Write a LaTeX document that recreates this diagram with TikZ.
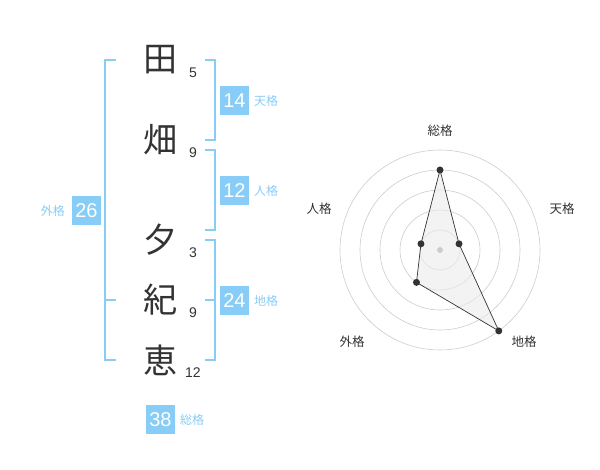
\documentclass[tikz,border=0pt]{standalone}
\usepackage{fontspec}
\setmainfont{Noto Sans CJK JP}
\newfontfamily\digits{Liberation Sans}
\usetikzlibrary{positioning}
\definecolor{skyblue}{HTML}{88CCF8}
\definecolor{inkgray}{HTML}{333333}
\definecolor{ringgray}{HTML}{CCCCCC}
\definecolor{areagray}{HTML}{EBEBEB}
\tikzset{
  kanji/.style={inner sep=0pt,text=inkgray,font=\fontsize{34}{34}\selectfont},
  strokes/.style={inner sep=0pt,text=inkgray,font=\digits\fontsize{14}{14}\selectfont},
  scorebox/.style={fill=skyblue,text=white,minimum size=28.5pt,inner sep=0pt,font=\digits\fontsize{20}{20}\selectfont},
  scorelabel/.style={inner sep=0pt,text=skyblue,font=\fontsize{12}{12}\selectfont},
  axislabel/.style={inner sep=0pt,text=inkgray,font=\fontsize{12.5}{12.5}\selectfont},
  bracket/.style={skyblue,line width=1.6pt},
  ring/.style={ringgray,line width=0.6pt}
}
\newcommand{\drawkanji}[4]{
  \node[kanji] (#1) at (160,#2) {#3};
  \node[strokes] (#1n) at (193,#2+13) {#4};
}
\newcommand{\drawbracket}[3]{
  \draw[bracket] (205,#1) -- (215,#1) -- (215,#2) -- (205,#2);
  %% #3 is an optional middle tick
  \ifx&#3&\else\draw[bracket] (205,#3) -- (215,#3);\fi
}

\begin{document}
\begin{tikzpicture}[x=1pt,y=-1pt]
      \useasboundingbox (0,0) rectangle (600,470);
      \drawkanji{ta}{60}{田}{5};
      \drawkanji{hata}{140}{畑}{9};
      \drawkanji{yu}{240}{夕}{3};
      \drawkanji{ki}{300}{紀}{9};
      \drawkanji{e}{360}{恵}{12};
      \drawbracket{60}{140}{};
      \drawbracket{150}{230}{};
      \drawbracket{240}{360}{300};
      \draw[bracket] (116,60) -- (105,60) -- (105,360) -- (116,360);
      \draw[bracket] (105,300) -- (116,300);
      \node[scorebox] (ten) at (234.5,100.5) {14};
      \node[scorelabel,right=5pt of ten] {天格};
      \node[scorebox] (jin) at (234.5,190.5) {12};
      \node[scorelabel,right=5pt of jin] {人格};
      \node[scorebox] (chi) at (234.5,300.5) {24};
      \node[scorelabel,right=5pt of chi] {地格};
      \node[scorebox] (gai) at (86.5,210.5) {26};
      \node[scorelabel,left=7pt of gai] {外格};
      \node[scorebox] (so) at (160.5,419.5) {38};
      \node[scorelabel,right=5pt of so] {総格};
      % radar
      \begin{scope}[shift={(440,250)},x=1pt,y=1pt]
        \foreach \r in {20,40,...,100}
          \draw[ring] (0,0) circle[radius=\r pt];
        \coordinate (psou) at (90:80);
        \coordinate (pten) at (18:20);
        \coordinate (pchi) at (-54:100);
        \coordinate (pgai) at (234:40);
        \coordinate (pjin) at (162:20);
        \filldraw[fill=areagray,fill opacity=0.6,draw=inkgray,line width=0.7pt]
          (psou) -- (pten) -- (pchi) -- (pgai) -- (pjin) -- cycle;
        \fill[ringgray] (0,0) circle[radius=3pt];
        \foreach \p in {psou,pten,pchi,pgai,pjin}
          \fill[inkgray] (\p) circle[radius=3.5pt];
        \node[axislabel] (lsou) at (0,119.5) {総格};
        \node[axislabel] (lten) at (122,41) {天格};
        \node[axislabel] (ljin) at (-121,41) {人格};
        \node[axislabel] (lgai) at (-88,-92) {外格};
        \node[axislabel] (lchi) at (84,-92) {地格};
      \end{scope}
    \end{tikzpicture}
\end{document}
